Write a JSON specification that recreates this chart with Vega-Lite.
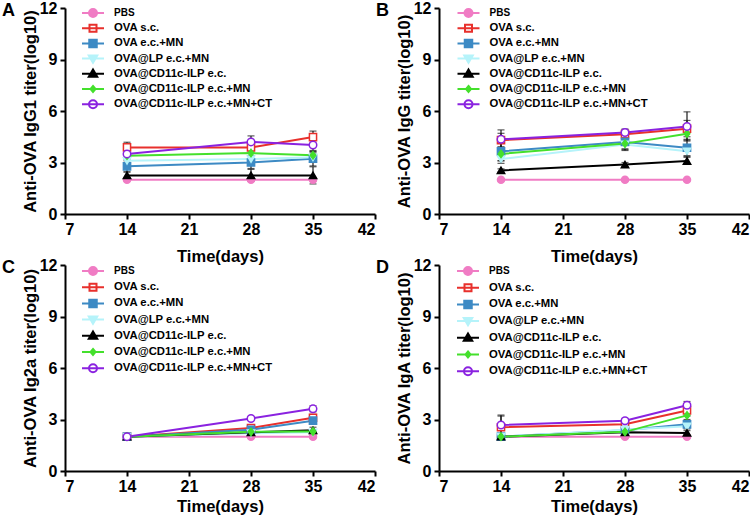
{
"$schema":"https://vega.github.io/schema/vega-lite/v6.json",
"padding":{"left":2,"top":0,"right":0,"bottom":0},
"params":[
{"name":"G","expr":"['PBS','OVA s.c.','OVA e.c.+MN','OVA@LP e.c.+MN','OVA@CD11c-ILP e.c.','OVA@CD11c-ILP e.c.+MN','OVA@CD11c-ILP e.c.+MN+CT']"},
{"name":"SH","expr":"['M-2.2,0H2.2M0.8,0A0.8,0.8,0,1,1,-0.8,0A0.8,0.8,0,1,1,0.8,0Z','M-2.2,0H2.2M-0.7,-0.7H0.7V0.7H-0.7Z','M-2.2,0H2.2M-0.75,-0.75H0.75V0.75H-0.75Z','M-2.2,0H2.2M-0.85,-0.6H0.85L0,0.85Z','M-2.2,0H2.2M0,-0.85L0.85,0.6H-0.85Z','M-2.2,0H2.2M0,-0.6L0.5,0L0,0.6L-0.5,0Z','M-2.2,0H2.2M0.8,0A0.8,0.8,0,1,1,-0.8,0A0.8,0.8,0,1,1,0.8,0Z']"},
{"name":"FI","expr":"['#f07cc4','white','#3d8ac4','#b5f3fa','#000000','#44e02c','white']"},
{"name":"ST","expr":"['#f07cc4','#e8302c','#3d8ac4','#b5f3fa','#000000','#44e02c','#8a22e0']"}
],
"datasets":{"t":[
{"p":"A","g":"PBS","d":14,"m":2.0,"lo":1.95,"hi":2.05},
{"p":"A","g":"PBS","d":28,"m":2.0,"lo":1.95,"hi":2.05},
{"p":"A","g":"PBS","d":35,"m":2.0,"lo":1.95,"hi":2.05},
{"p":"A","g":"OVA s.c.","d":14,"m":3.88,"lo":3.58,"hi":4.18},
{"p":"A","g":"OVA s.c.","d":28,"m":3.88,"lo":3.68,"hi":4.08},
{"p":"A","g":"OVA s.c.","d":35,"m":4.48,"lo":4.13,"hi":4.83},
{"p":"A","g":"OVA e.c.+MN","d":14,"m":2.78,"lo":2.45,"hi":3.1},
{"p":"A","g":"OVA e.c.+MN","d":28,"m":3.0,"lo":2.65,"hi":3.35},
{"p":"A","g":"OVA e.c.+MN","d":35,"m":3.22,"lo":2.8,"hi":3.62},
{"p":"A","g":"OVA@LP e.c.+MN","d":14,"m":3.1,"lo":2.9,"hi":3.3},
{"p":"A","g":"OVA@LP e.c.+MN","d":28,"m":3.2,"lo":3.0,"hi":3.4},
{"p":"A","g":"OVA@LP e.c.+MN","d":35,"m":3.3,"lo":3.05,"hi":3.55},
{"p":"A","g":"OVA@CD11c-ILP e.c.","d":14,"m":2.25,"lo":2.05,"hi":2.45},
{"p":"A","g":"OVA@CD11c-ILP e.c.","d":28,"m":2.25,"lo":1.9,"hi":2.6},
{"p":"A","g":"OVA@CD11c-ILP e.c.","d":35,"m":2.25,"lo":1.75,"hi":2.75},
{"p":"A","g":"OVA@CD11c-ILP e.c.+MN","d":14,"m":3.4,"lo":3.2,"hi":3.6},
{"p":"A","g":"OVA@CD11c-ILP e.c.+MN","d":28,"m":3.55,"lo":3.35,"hi":3.75},
{"p":"A","g":"OVA@CD11c-ILP e.c.+MN","d":35,"m":3.42,"lo":3.2,"hi":3.65},
{"p":"A","g":"OVA@CD11c-ILP e.c.+MN+CT","d":14,"m":3.5,"lo":3.3,"hi":3.7},
{"p":"A","g":"OVA@CD11c-ILP e.c.+MN+CT","d":28,"m":4.2,"lo":3.85,"hi":4.55},
{"p":"A","g":"OVA@CD11c-ILP e.c.+MN+CT","d":35,"m":4.02,"lo":3.7,"hi":4.35},
{"p":"B","g":"PBS","d":14,"m":2.0,"lo":1.95,"hi":2.05},
{"p":"B","g":"PBS","d":28,"m":2.0,"lo":1.95,"hi":2.05},
{"p":"B","g":"PBS","d":35,"m":2.0,"lo":1.95,"hi":2.05},
{"p":"B","g":"OVA s.c.","d":14,"m":4.3,"lo":3.9,"hi":4.7},
{"p":"B","g":"OVA s.c.","d":28,"m":4.65,"lo":4.4,"hi":4.9},
{"p":"B","g":"OVA s.c.","d":35,"m":4.97,"lo":4.5,"hi":5.45},
{"p":"B","g":"OVA e.c.+MN","d":14,"m":3.65,"lo":3.1,"hi":4.2},
{"p":"B","g":"OVA e.c.+MN","d":28,"m":4.2,"lo":3.7,"hi":4.7},
{"p":"B","g":"OVA e.c.+MN","d":35,"m":3.86,"lo":3.4,"hi":4.35},
{"p":"B","g":"OVA@LP e.c.+MN","d":14,"m":3.2,"lo":2.95,"hi":3.45},
{"p":"B","g":"OVA@LP e.c.+MN","d":28,"m":4.05,"lo":3.75,"hi":4.35},
{"p":"B","g":"OVA@LP e.c.+MN","d":35,"m":3.65,"lo":3.35,"hi":3.95},
{"p":"B","g":"OVA@CD11c-ILP e.c.","d":14,"m":2.54,"lo":2.45,"hi":2.63},
{"p":"B","g":"OVA@CD11c-ILP e.c.","d":28,"m":2.88,"lo":2.75,"hi":3.0},
{"p":"B","g":"OVA@CD11c-ILP e.c.","d":35,"m":3.09,"lo":2.9,"hi":3.3},
{"p":"B","g":"OVA@CD11c-ILP e.c.+MN","d":14,"m":3.5,"lo":3.1,"hi":3.9},
{"p":"B","g":"OVA@CD11c-ILP e.c.+MN","d":28,"m":4.1,"lo":3.8,"hi":4.4},
{"p":"B","g":"OVA@CD11c-ILP e.c.+MN","d":35,"m":4.68,"lo":4.3,"hi":5.05},
{"p":"B","g":"OVA@CD11c-ILP e.c.+MN+CT","d":14,"m":4.35,"lo":3.8,"hi":4.9},
{"p":"B","g":"OVA@CD11c-ILP e.c.+MN+CT","d":28,"m":4.75,"lo":4.55,"hi":4.95},
{"p":"B","g":"OVA@CD11c-ILP e.c.+MN+CT","d":35,"m":5.1,"lo":4.25,"hi":5.95},
{"p":"C","g":"PBS","d":14,"m":2.0,"lo":1.95,"hi":2.05},
{"p":"C","g":"PBS","d":28,"m":2.0,"lo":1.95,"hi":2.05},
{"p":"C","g":"PBS","d":35,"m":2.0,"lo":1.95,"hi":2.05},
{"p":"C","g":"OVA s.c.","d":14,"m":2.0,"lo":1.95,"hi":2.05},
{"p":"C","g":"OVA s.c.","d":28,"m":2.5,"lo":2.35,"hi":2.65},
{"p":"C","g":"OVA s.c.","d":35,"m":3.1,"lo":2.9,"hi":3.3},
{"p":"C","g":"OVA e.c.+MN","d":14,"m":2.0,"lo":1.95,"hi":2.05},
{"p":"C","g":"OVA e.c.+MN","d":28,"m":2.4,"lo":2.25,"hi":2.55},
{"p":"C","g":"OVA e.c.+MN","d":35,"m":2.93,"lo":2.75,"hi":3.1},
{"p":"C","g":"OVA@LP e.c.+MN","d":14,"m":2.0,"lo":1.95,"hi":2.05},
{"p":"C","g":"OVA@LP e.c.+MN","d":28,"m":2.2,"lo":2.1,"hi":2.3},
{"p":"C","g":"OVA@LP e.c.+MN","d":35,"m":2.25,"lo":2.15,"hi":2.35},
{"p":"C","g":"OVA@CD11c-ILP e.c.","d":14,"m":2.0,"lo":1.95,"hi":2.05},
{"p":"C","g":"OVA@CD11c-ILP e.c.","d":28,"m":2.25,"lo":2.15,"hi":2.35},
{"p":"C","g":"OVA@CD11c-ILP e.c.","d":35,"m":2.37,"lo":2.2,"hi":2.55},
{"p":"C","g":"OVA@CD11c-ILP e.c.+MN","d":14,"m":2.0,"lo":1.95,"hi":2.05},
{"p":"C","g":"OVA@CD11c-ILP e.c.+MN","d":28,"m":2.28,"lo":2.18,"hi":2.38},
{"p":"C","g":"OVA@CD11c-ILP e.c.+MN","d":35,"m":2.3,"lo":2.2,"hi":2.4},
{"p":"C","g":"OVA@CD11c-ILP e.c.+MN+CT","d":14,"m":2.0,"lo":1.95,"hi":2.05},
{"p":"C","g":"OVA@CD11c-ILP e.c.+MN+CT","d":28,"m":3.06,"lo":2.95,"hi":3.17},
{"p":"C","g":"OVA@CD11c-ILP e.c.+MN+CT","d":35,"m":3.62,"lo":3.45,"hi":3.8},
{"p":"D","g":"PBS","d":14,"m":2.0,"lo":1.95,"hi":2.05},
{"p":"D","g":"PBS","d":28,"m":2.0,"lo":1.95,"hi":2.05},
{"p":"D","g":"PBS","d":35,"m":2.0,"lo":1.95,"hi":2.05},
{"p":"D","g":"OVA s.c.","d":14,"m":2.55,"lo":1.9,"hi":3.2},
{"p":"D","g":"OVA s.c.","d":28,"m":2.72,"lo":2.55,"hi":2.9},
{"p":"D","g":"OVA s.c.","d":35,"m":3.53,"lo":3.2,"hi":3.85},
{"p":"D","g":"OVA e.c.+MN","d":14,"m":2.0,"lo":1.95,"hi":2.05},
{"p":"D","g":"OVA e.c.+MN","d":28,"m":2.38,"lo":2.25,"hi":2.5},
{"p":"D","g":"OVA e.c.+MN","d":35,"m":2.72,"lo":2.55,"hi":2.9},
{"p":"D","g":"OVA@LP e.c.+MN","d":14,"m":2.0,"lo":1.95,"hi":2.05},
{"p":"D","g":"OVA@LP e.c.+MN","d":28,"m":2.4,"lo":2.3,"hi":2.5},
{"p":"D","g":"OVA@LP e.c.+MN","d":35,"m":2.6,"lo":2.45,"hi":2.75},
{"p":"D","g":"OVA@CD11c-ILP e.c.","d":14,"m":2.0,"lo":1.95,"hi":2.05},
{"p":"D","g":"OVA@CD11c-ILP e.c.","d":28,"m":2.25,"lo":2.15,"hi":2.35},
{"p":"D","g":"OVA@CD11c-ILP e.c.","d":35,"m":2.22,"lo":2.1,"hi":2.35},
{"p":"D","g":"OVA@CD11c-ILP e.c.+MN","d":14,"m":2.0,"lo":1.95,"hi":2.05},
{"p":"D","g":"OVA@CD11c-ILP e.c.+MN","d":28,"m":2.28,"lo":2.15,"hi":2.4},
{"p":"D","g":"OVA@CD11c-ILP e.c.+MN","d":35,"m":3.24,"lo":3.0,"hi":3.5},
{"p":"D","g":"OVA@CD11c-ILP e.c.+MN+CT","d":14,"m":2.68,"lo":2.1,"hi":3.26},
{"p":"D","g":"OVA@CD11c-ILP e.c.+MN+CT","d":28,"m":2.93,"lo":2.8,"hi":3.06},
{"p":"D","g":"OVA@CD11c-ILP e.c.+MN+CT","d":35,"m":3.83,"lo":3.6,"hi":4.05}
]},
"data":{"name":"t"},
"columns":2,
"spacing":{"row":-12,"column":0},
"resolve":{"scale":{"x":"independent","y":"independent","stroke":"independent","fill":"independent","shape":"independent","size":"independent","opacity":"independent"}},
"concat":[
{"width":310,"height":206,
 "title":{"text":"A","anchor":"start","frame":"group","dx":-63,"dy":20,"offset":0},
 "transform":[{"filter":"datum.p==='A'"}],
 "encoding":{"x":{"field":"d","type":"quantitative","scale":{"domain":[7,42],"nice":false,"zero":false},"axis":{"values":[7,14,21,28,35,42],"title":"Time(days)","titlePadding":11}}},
 "layer":[
  {"mark":{"type":"errorbar","ticks":true,"color":"#1a1a1a","thickness":1.2,"size":7},
   "encoding":{"y":{"field":"lo","type":"quantitative","scale":{"domain":[0,12],"nice":false},"axis":{"values":[0,3,6,9,12],"title":"Anti-OVA IgG1 titer(log10)"}},"y2":{"field":"hi"}}},
  {"mark":{"type":"line","strokeWidth":2},
   "encoding":{"y":{"field":"m","type":"quantitative","scale":{"domain":[0,12],"nice":false},"axis":{"values":[0,3,6,9,12],"title":"Anti-OVA IgG1 titer(log10)"}},
    "stroke":{"field":"g","type":"nominal","scale":{"domain":["PBS","OVA s.c.","OVA e.c.+MN","OVA@LP e.c.+MN","OVA@CD11c-ILP e.c.","OVA@CD11c-ILP e.c.+MN","OVA@CD11c-ILP e.c.+MN+CT"],"range":["#f07cc4","#e8302c","#3d8ac4","#b5f3fa","#000000","#44e02c","#8a22e0"]},"legend":null},
    "opacity":{"field":"g","type":"ordinal","sort":["PBS","OVA s.c.","OVA e.c.+MN","OVA@LP e.c.+MN","OVA@CD11c-ILP e.c.","OVA@CD11c-ILP e.c.+MN","OVA@CD11c-ILP e.c.+MN+CT"],"scale":{"range":[1,1,1,1,1,1,1]},
     "legend":{"title":null,"orient":"none","legendX":22,"legendY":-1,"rowPadding":-2.8,"gridAlign":"all",
      "encode":{"symbols":{"update":{"shape":{"signal":"SH[indexof(G,datum.value)]"},"fill":{"signal":"FI[indexof(G,datum.value)]"},"stroke":{"signal":"ST[indexof(G,datum.value)]"},"strokeWidth":{"value":2}}},
       "labels":{"update":{"fontSize":{"signal":"datum.value==='PBS'?10:11.3"}}}}}}}},
  {"mark":{"type":"point","opacity":1,"fillOpacity":1,"strokeWidth":1.5},
   "encoding":{"y":{"field":"m","type":"quantitative"},
    "stroke":{"field":"g","type":"nominal","legend":null},
    "fill":{"field":"g","type":"nominal","scale":{"domain":["PBS","OVA s.c.","OVA e.c.+MN","OVA@LP e.c.+MN","OVA@CD11c-ILP e.c.","OVA@CD11c-ILP e.c.+MN","OVA@CD11c-ILP e.c.+MN+CT"],"range":["#f07cc4","white","#3d8ac4","#b5f3fa","#000000","#44e02c","white"]},"legend":null},
    "shape":{"field":"g","type":"nominal","scale":{"domain":["PBS","OVA s.c.","OVA e.c.+MN","OVA@LP e.c.+MN","OVA@CD11c-ILP e.c.","OVA@CD11c-ILP e.c.+MN","OVA@CD11c-ILP e.c.+MN+CT"],"range":["circle","square","square","triangle-down","triangle-up","M0,-1L0.75,0L0,1L-0.75,0Z","circle"]},"legend":null},
    "size":{"field":"g","type":"nominal","scale":{"domain":["PBS","OVA s.c.","OVA e.c.+MN","OVA@LP e.c.+MN","OVA@CD11c-ILP e.c.","OVA@CD11c-ILP e.c.+MN","OVA@CD11c-ILP e.c.+MN+CT"],"range":[50,56,60,60,60,40,55]},"legend":null}}}
 ]},
{"width":310,"height":206,
 "title":{"text":"B","anchor":"start","frame":"group","dx":-63,"dy":20,"offset":0},
 "transform":[{"filter":"datum.p==='B'"}],
 "encoding":{"x":{"field":"d","type":"quantitative","scale":{"domain":[7,42],"nice":false,"zero":false},"axis":{"values":[7,14,21,28,35,42],"title":"Time(days)","titlePadding":11}}},
 "layer":[
  {"mark":{"type":"errorbar","ticks":true,"color":"#1a1a1a","thickness":1.2,"size":7},
   "encoding":{"y":{"field":"lo","type":"quantitative","scale":{"domain":[0,12],"nice":false},"axis":{"values":[0,3,6,9,12],"title":"Anti-OVA IgG titer(log10)"}},"y2":{"field":"hi"}}},
  {"mark":{"type":"line","strokeWidth":2},
   "encoding":{"y":{"field":"m","type":"quantitative","scale":{"domain":[0,12],"nice":false},"axis":{"values":[0,3,6,9,12],"title":"Anti-OVA IgG titer(log10)"}},
    "stroke":{"field":"g","type":"nominal","scale":{"domain":["PBS","OVA s.c.","OVA e.c.+MN","OVA@LP e.c.+MN","OVA@CD11c-ILP e.c.","OVA@CD11c-ILP e.c.+MN","OVA@CD11c-ILP e.c.+MN+CT"],"range":["#f07cc4","#e8302c","#3d8ac4","#b5f3fa","#000000","#44e02c","#8a22e0"]},"legend":null},
    "opacity":{"field":"g","type":"ordinal","sort":["PBS","OVA s.c.","OVA e.c.+MN","OVA@LP e.c.+MN","OVA@CD11c-ILP e.c.","OVA@CD11c-ILP e.c.+MN","OVA@CD11c-ILP e.c.+MN+CT"],"scale":{"range":[1,1,1,1,1,1,1]},
     "legend":{"title":null,"orient":"none","legendX":23.5,"legendY":-1,"rowPadding":-2.8,"gridAlign":"all",
      "encode":{"symbols":{"update":{"shape":{"signal":"SH[indexof(G,datum.value)]"},"fill":{"signal":"FI[indexof(G,datum.value)]"},"stroke":{"signal":"ST[indexof(G,datum.value)]"},"strokeWidth":{"value":2}}},
       "labels":{"update":{"fontSize":{"signal":"datum.value==='PBS'?10:11.3"}}}}}}}},
  {"mark":{"type":"point","opacity":1,"fillOpacity":1,"strokeWidth":1.5},
   "encoding":{"y":{"field":"m","type":"quantitative"},
    "stroke":{"field":"g","type":"nominal","legend":null},
    "fill":{"field":"g","type":"nominal","scale":{"domain":["PBS","OVA s.c.","OVA e.c.+MN","OVA@LP e.c.+MN","OVA@CD11c-ILP e.c.","OVA@CD11c-ILP e.c.+MN","OVA@CD11c-ILP e.c.+MN+CT"],"range":["#f07cc4","white","#3d8ac4","#b5f3fa","#000000","#44e02c","white"]},"legend":null},
    "shape":{"field":"g","type":"nominal","scale":{"domain":["PBS","OVA s.c.","OVA e.c.+MN","OVA@LP e.c.+MN","OVA@CD11c-ILP e.c.","OVA@CD11c-ILP e.c.+MN","OVA@CD11c-ILP e.c.+MN+CT"],"range":["circle","square","square","triangle-down","triangle-up","M0,-1L0.75,0L0,1L-0.75,0Z","circle"]},"legend":null},
    "size":{"field":"g","type":"nominal","scale":{"domain":["PBS","OVA s.c.","OVA e.c.+MN","OVA@LP e.c.+MN","OVA@CD11c-ILP e.c.","OVA@CD11c-ILP e.c.+MN","OVA@CD11c-ILP e.c.+MN+CT"],"range":[50,56,60,60,60,40,55]},"legend":null}}}
 ]},
{"width":310,"height":206,
 "title":{"text":"C","anchor":"start","frame":"group","dx":-63,"dy":20,"offset":0},
 "transform":[{"filter":"datum.p==='C'"}],
 "encoding":{"x":{"field":"d","type":"quantitative","scale":{"domain":[7,42],"nice":false,"zero":false},"axis":{"values":[7,14,21,28,35,42],"title":"Time(days)","titlePadding":4}}},
 "layer":[
  {"mark":{"type":"errorbar","ticks":true,"color":"#1a1a1a","thickness":1.2,"size":7},
   "encoding":{"y":{"field":"lo","type":"quantitative","scale":{"domain":[0,12],"nice":false},"axis":{"values":[0,3,6,9,12],"title":"Anti-OVA Ig2a titer(log10)"}},"y2":{"field":"hi"}}},
  {"mark":{"type":"line","strokeWidth":2},
   "encoding":{"y":{"field":"m","type":"quantitative","scale":{"domain":[0,12],"nice":false},"axis":{"values":[0,3,6,9,12],"title":"Anti-OVA Ig2a titer(log10)"}},
    "stroke":{"field":"g","type":"nominal","scale":{"domain":["PBS","OVA s.c.","OVA e.c.+MN","OVA@LP e.c.+MN","OVA@CD11c-ILP e.c.","OVA@CD11c-ILP e.c.+MN","OVA@CD11c-ILP e.c.+MN+CT"],"range":["#f07cc4","#e8302c","#3d8ac4","#b5f3fa","#000000","#44e02c","#8a22e0"]},"legend":null},
    "opacity":{"field":"g","type":"ordinal","sort":["PBS","OVA s.c.","OVA e.c.+MN","OVA@LP e.c.+MN","OVA@CD11c-ILP e.c.","OVA@CD11c-ILP e.c.+MN","OVA@CD11c-ILP e.c.+MN+CT"],"scale":{"range":[1,1,1,1,1,1,1]},
     "legend":{"title":null,"orient":"none","legendX":22,"legendY":0,"rowPadding":-1.8,"gridAlign":"all",
      "encode":{"symbols":{"update":{"shape":{"signal":"SH[indexof(G,datum.value)]"},"fill":{"signal":"FI[indexof(G,datum.value)]"},"stroke":{"signal":"ST[indexof(G,datum.value)]"},"strokeWidth":{"value":2}}},
       "labels":{"update":{"fontSize":{"signal":"datum.value==='PBS'?10:11.3"}}}}}}}},
  {"mark":{"type":"point","opacity":1,"fillOpacity":1,"strokeWidth":1.5},
   "encoding":{"y":{"field":"m","type":"quantitative"},
    "stroke":{"field":"g","type":"nominal","legend":null},
    "fill":{"field":"g","type":"nominal","scale":{"domain":["PBS","OVA s.c.","OVA e.c.+MN","OVA@LP e.c.+MN","OVA@CD11c-ILP e.c.","OVA@CD11c-ILP e.c.+MN","OVA@CD11c-ILP e.c.+MN+CT"],"range":["#f07cc4","white","#3d8ac4","#b5f3fa","#000000","#44e02c","white"]},"legend":null},
    "shape":{"field":"g","type":"nominal","scale":{"domain":["PBS","OVA s.c.","OVA e.c.+MN","OVA@LP e.c.+MN","OVA@CD11c-ILP e.c.","OVA@CD11c-ILP e.c.+MN","OVA@CD11c-ILP e.c.+MN+CT"],"range":["circle","square","square","triangle-down","triangle-up","M0,-1L0.75,0L0,1L-0.75,0Z","circle"]},"legend":null},
    "size":{"field":"g","type":"nominal","scale":{"domain":["PBS","OVA s.c.","OVA e.c.+MN","OVA@LP e.c.+MN","OVA@CD11c-ILP e.c.","OVA@CD11c-ILP e.c.+MN","OVA@CD11c-ILP e.c.+MN+CT"],"range":[50,56,60,60,60,40,55]},"legend":null}}}
 ]},
{"width":310,"height":206,
 "title":{"text":"D","anchor":"start","frame":"group","dx":-63,"dy":20,"offset":0},
 "transform":[{"filter":"datum.p==='D'"}],
 "encoding":{"x":{"field":"d","type":"quantitative","scale":{"domain":[7,42],"nice":false,"zero":false},"axis":{"values":[7,14,21,28,35,42],"title":"Time(days)","titlePadding":4}}},
 "layer":[
  {"mark":{"type":"errorbar","ticks":true,"color":"#1a1a1a","thickness":1.2,"size":7},
   "encoding":{"y":{"field":"lo","type":"quantitative","scale":{"domain":[0,12],"nice":false},"axis":{"values":[0,3,6,9,12],"title":"Anti-OVA IgA titer(log10)"}},"y2":{"field":"hi"}}},
  {"mark":{"type":"line","strokeWidth":2},
   "encoding":{"y":{"field":"m","type":"quantitative","scale":{"domain":[0,12],"nice":false},"axis":{"values":[0,3,6,9,12],"title":"Anti-OVA IgA titer(log10)"}},
    "stroke":{"field":"g","type":"nominal","scale":{"domain":["PBS","OVA s.c.","OVA e.c.+MN","OVA@LP e.c.+MN","OVA@CD11c-ILP e.c.","OVA@CD11c-ILP e.c.+MN","OVA@CD11c-ILP e.c.+MN+CT"],"range":["#f07cc4","#e8302c","#3d8ac4","#b5f3fa","#000000","#44e02c","#8a22e0"]},"legend":null},
    "opacity":{"field":"g","type":"ordinal","sort":["PBS","OVA s.c.","OVA e.c.+MN","OVA@LP e.c.+MN","OVA@CD11c-ILP e.c.","OVA@CD11c-ILP e.c.+MN","OVA@CD11c-ILP e.c.+MN+CT"],"scale":{"range":[1,1,1,1,1,1,1]},
     "legend":{"title":null,"orient":"none","legendX":23,"legendY":0,"rowPadding":-1.3,"gridAlign":"all",
      "encode":{"symbols":{"update":{"shape":{"signal":"SH[indexof(G,datum.value)]"},"fill":{"signal":"FI[indexof(G,datum.value)]"},"stroke":{"signal":"ST[indexof(G,datum.value)]"},"strokeWidth":{"value":2}}},
       "labels":{"update":{"fontSize":{"signal":"datum.value==='PBS'?10:11.3"}}}}}}}},
  {"mark":{"type":"point","opacity":1,"fillOpacity":1,"strokeWidth":1.5},
   "encoding":{"y":{"field":"m","type":"quantitative"},
    "stroke":{"field":"g","type":"nominal","legend":null},
    "fill":{"field":"g","type":"nominal","scale":{"domain":["PBS","OVA s.c.","OVA e.c.+MN","OVA@LP e.c.+MN","OVA@CD11c-ILP e.c.","OVA@CD11c-ILP e.c.+MN","OVA@CD11c-ILP e.c.+MN+CT"],"range":["#f07cc4","white","#3d8ac4","#b5f3fa","#000000","#44e02c","white"]},"legend":null},
    "shape":{"field":"g","type":"nominal","scale":{"domain":["PBS","OVA s.c.","OVA e.c.+MN","OVA@LP e.c.+MN","OVA@CD11c-ILP e.c.","OVA@CD11c-ILP e.c.+MN","OVA@CD11c-ILP e.c.+MN+CT"],"range":["circle","square","square","triangle-down","triangle-up","M0,-1L0.75,0L0,1L-0.75,0Z","circle"]},"legend":null},
    "size":{"field":"g","type":"nominal","scale":{"domain":["PBS","OVA s.c.","OVA e.c.+MN","OVA@LP e.c.+MN","OVA@CD11c-ILP e.c.","OVA@CD11c-ILP e.c.+MN","OVA@CD11c-ILP e.c.+MN+CT"],"range":[50,56,60,60,60,40,55]},"legend":null}}}
 ]}
],
"config":{
 "view":{"stroke":null},
 "font":"Liberation Sans",
 "axis":{"domainColor":"#000","domainWidth":2,"tickColor":"#000","tickWidth":2,"tickSize":5,"labelFont":"Liberation Sans","labelFontSize":16,"labelFontWeight":"bold","labelColor":"#000","titleFont":"Liberation Sans","titleFontSize":16.5,"titleFontWeight":"bold","titleColor":"#000","grid":false,"labelPadding":2},
 "axisY":{"titlePadding":1,"labelPadding":3},
 "legend":{"labelFont":"Liberation Sans","labelFontSize":11.3,"labelFontWeight":"bold","labelColor":"#000","symbolSize":100,"padding":0,"labelOffset":15,"symbolStrokeWidth":2},
 "title":{"font":"Liberation Sans","fontSize":18,"fontWeight":"bold","color":"#000"}
}
}
